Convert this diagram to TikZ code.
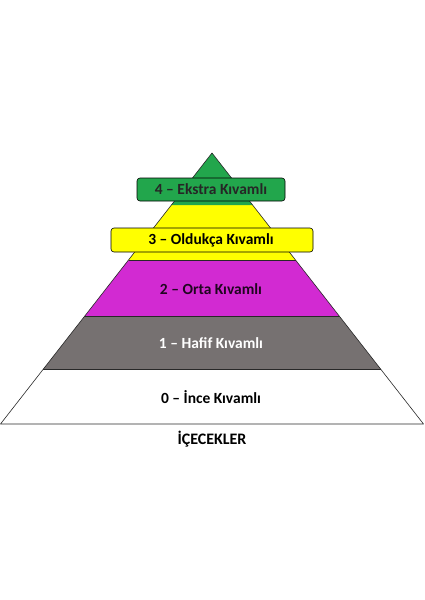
\documentclass[tikz,border=0pt]{standalone}
\usepackage{fontspec}
\setmainfont{Carlito}
\definecolor{pgreen}{RGB}{34,166,76}
\definecolor{pyellow}{RGB}{255,255,0}
\definecolor{pmagenta}{RGB}{210,42,210}
\definecolor{pgray}{RGB}{118,113,113}
\definecolor{pline}{RGB}{40,40,40}
\begin{document}
\begin{tikzpicture}[x=1pt,y=-1pt,
  band/.style={draw=pline,line width=0.6pt,line join=round},
  lbl/.style={font=\bfseries\fontsize{15.5}{17}\selectfont,inner sep=0pt},
  tagbox/.style={draw=black,line width=0.6pt,rounded corners=3pt}]
\useasboundingbox[fill=white] (0,0) rectangle (424,600);
% corner coordinates
\coordinate (A) at (212,153);
\coordinate (L0) at (0.5,424);   \coordinate (R0) at (423.5,424);
\coordinate (L1) at (43.4,369);  \coordinate (R1) at (380.6,369);
\coordinate (L2) at (84.8,316);  \coordinate (R2) at (339.2,316);
\coordinate (L3) at (128.5,260); \coordinate (R3) at (295.5,260);
\coordinate (L4) at (171.4,205); \coordinate (R4) at (252.6,205);
% bands
\fill[white] (L0) -- (R0) -- (R1) -- (L1) -- cycle;
\fill[pgray] (L1) -- (R1) -- (R2) -- (L2) -- cycle;
\fill[pmagenta] (L2) -- (R2) -- (R3) -- (L3) -- cycle;
\fill[pyellow] (L3) -- (R3) -- (R4) -- (L4) -- cycle;
\fill[pgreen] (L4) -- (R4) -- (A) -- cycle;
\draw[band] (L0) -- (R0) -- (A) -- cycle;
\draw[band] (L1) -- (R1);
\draw[band] (L2) -- (R2);
\draw[band] (L3) -- (R3);
% boxes
\draw[tagbox,fill=pgreen] (137,178) rectangle (285,201);
\draw[tagbox,fill=pyellow] (111,228) rectangle (313,252);
% labels
\node[lbl,text=black!85] (t4) at (211,189.5) {4 – Ekstra Kıvamlı};
\node[lbl,text=black] (t3) at (211,240) {3 – Oldukça Kıvamlı};
\node[lbl,text=black!85!pmagenta] (t2) at (211,289) {2 – Orta Kıvamlı};
\node[lbl,text=white] (t1) at (211,343) {1 – Hafif Kıvamlı};
\node[lbl,text=black] (t0) at (211,397) {0 – İnce Kıvamlı};
\node[lbl,font=\bfseries\fontsize{16}{19}\selectfont] (title) at (212,439) {İÇECEKLER};
\end{tikzpicture}
\end{document}
